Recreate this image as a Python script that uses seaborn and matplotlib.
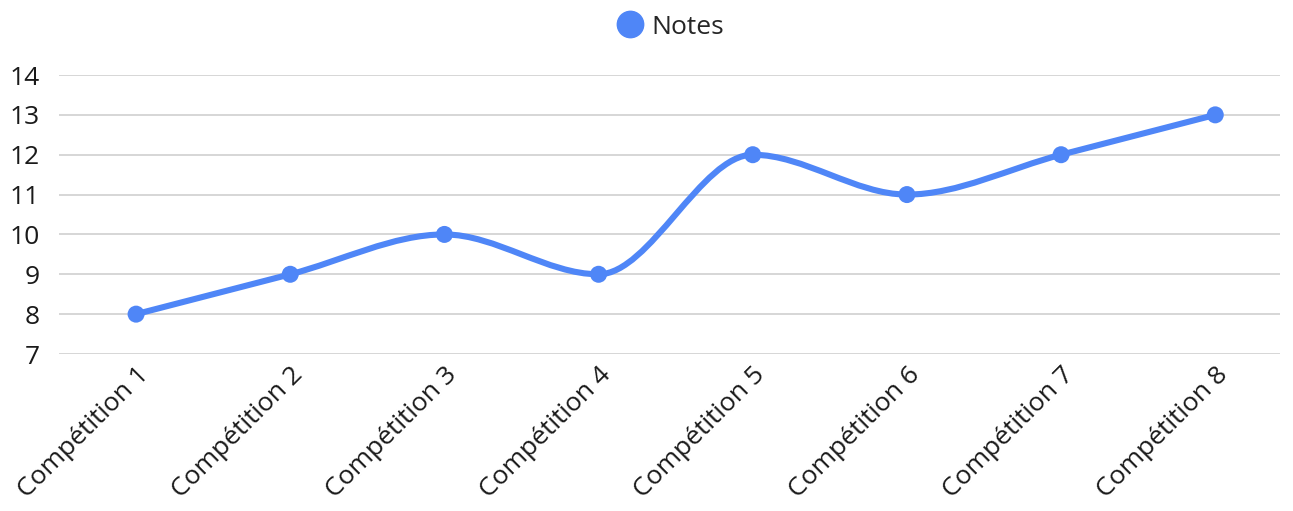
import numpy as np
import pandas as pd
import matplotlib
matplotlib.use("Agg")
import matplotlib.pyplot as plt
from matplotlib.path import Path
from matplotlib.patches import PathPatch
from matplotlib.lines import Line2D
import seaborn as sns

categories = ["Compétition 1", "Compétition 2", "Compétition 3", "Compétition 4",
              "Compétition 5", "Compétition 6", "Compétition 7", "Compétition 8"]
notes = [8, 9, 10, 9, 12, 11, 12, 13]
y_ticks = [7, 8, 9, 10, 11, 12, 13, 14]
series_name = "Notes"

COLOR = "#4F86F7"
FS = 19

sns.set_style("white")
plt.rcParams["font.family"] = ["Open Sans", "DejaVu Sans"]

fig = plt.figure(figsize=(12.93, 5.11), dpi=100)
ax = fig.add_axes([59 / 1293, 157 / 511, (1280 - 59) / 1293, (354 - 75) / 511])

df = pd.DataFrame({"cat": categories, "x": np.arange(len(categories)), "y": notes})

# monotone cubic (Fritsch-Carlson) rendering of the line as Bezier segments
xs = df["x"].to_numpy(float)
ys = df["y"].to_numpy(float)
d = np.diff(ys) / np.diff(xs)
m = np.zeros_like(ys)
m[0], m[-1] = d[0], d[-1]
for i in range(1, len(ys) - 1):
    if d[i - 1] * d[i] > 0:
        m[i] = (d[i - 1] + d[i]) / 2
for i in range(len(d)):
    if d[i] == 0:
        m[i] = m[i + 1] = 0
        continue
    a, b = m[i] / d[i], m[i + 1] / d[i]
    s = a * a + b * b
    if s > 9:
        t = 3 / np.sqrt(s)
        m[i], m[i + 1] = t * a * d[i], t * b * d[i]
verts = [(xs[0], ys[0])]
codes = [Path.MOVETO]
for i in range(len(d)):
    h = (xs[i + 1] - xs[i]) / 3
    verts += [(xs[i] + h, ys[i] + m[i] * h), (xs[i + 1] - h, ys[i + 1] - m[i + 1] * h), (xs[i + 1], ys[i + 1])]
    codes += [Path.CURVE4] * 3
ax.add_patch(PathPatch(Path(verts, codes), facecolor="none", edgecolor=COLOR, lw=4.4,
                       capstyle="round", joinstyle="round", zorder=3))

sns.scatterplot(data=df, x="x", y="y", ax=ax, color=COLOR, s=150, edgecolor="none",
                zorder=4, label=series_name, legend=False)

ax.set_xlim(-0.5, 7.42)
ax.set_ylim(7, 14)
ax.set_yticks(y_ticks)
ax.set_yticklabels([str(v) for v in y_ticks], fontsize=FS, color="#1a1a1a")
ax.set_xticks(df["x"])
ax.set_xticklabels(categories, rotation=45, ha="right", rotation_mode="anchor",
                   fontsize=FS, color="#1a1a1a")
ax.tick_params(axis="both", length=0)
ax.tick_params(axis="y", pad=14)
ax.tick_params(axis="x", pad=6)
ax.set_xlabel("")
ax.set_ylabel("")
ax.yaxis.grid(True, color="#cccccc", lw=1.1)
ax.xaxis.grid(False)
for sp in ax.spines.values():
    sp.set_visible(False)

handle = Line2D([], [], marker="o", color=COLOR, lw=0, markersize=19)
fig.legend([handle], [series_name], loc="center", bbox_to_anchor=(0.518, 1 - 27 / 511),
           frameon=False, fontsize=FS, handletextpad=0.25, handlelength=1.1)

fig.savefig("out.png", dpi=100)
